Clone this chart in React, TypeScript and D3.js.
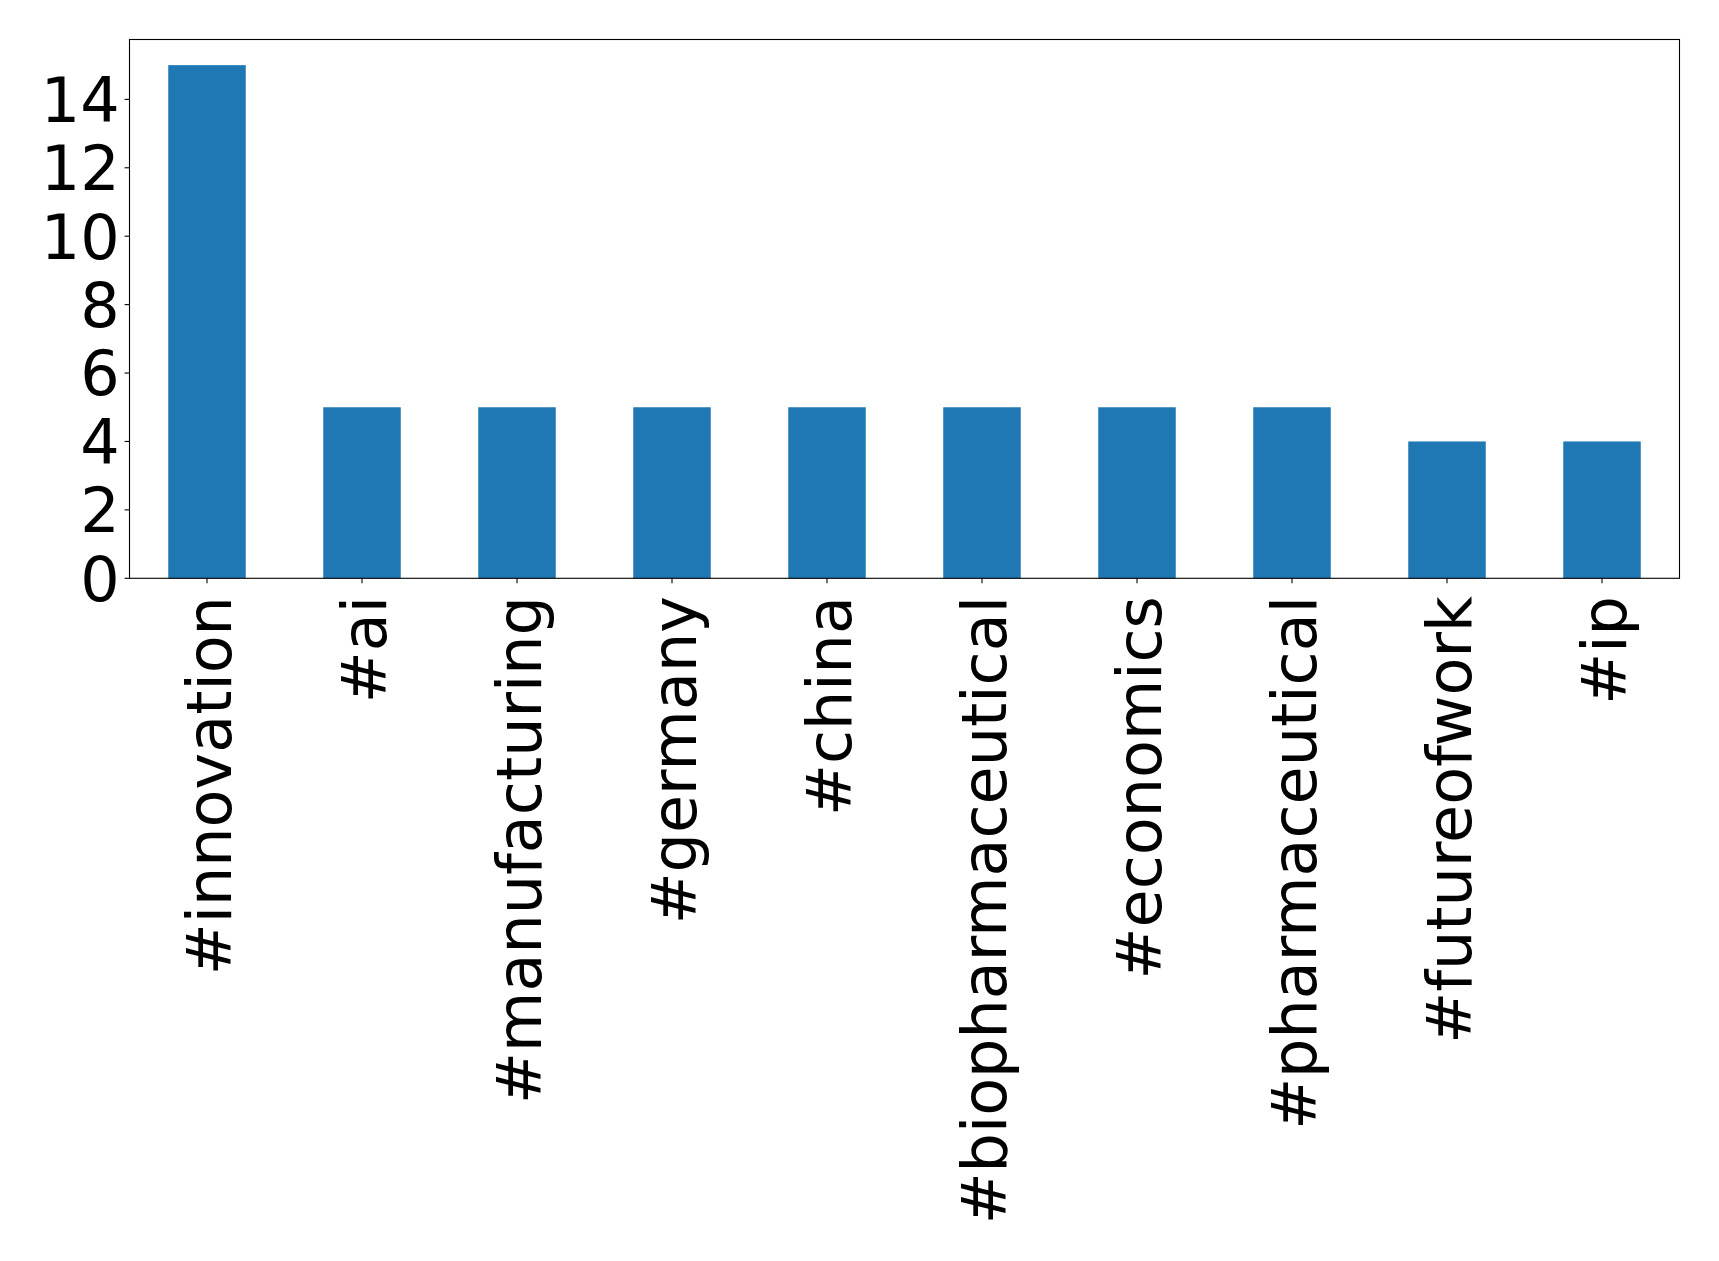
import React from "react";
import * as d3 from "d3";

const categories = ["#innovation", "#ai", "#manufacturing", "#germany", "#china", "#biopharmaceutical", "#economics", "#pharmaceutical", "#futureofwork", "#ip"];
const counts = [15, 5, 5, 5, 5, 5, 5, 5, 4, 4];
const yTicks = [0, 2, 4, 6, 8, 10, 12, 14];

const W = 1719;
const H = 1261;
const left = 129.5;
const right = 1679.5;
const top = 39.5;
const bottom = 578.3;
const font = "'DejaVu Sans', sans-serif";
const fs = 62;
const tickLen = 4.9;
const pad = 4.9;

export default function App() {
  const x = d3.scaleLinear().domain([-0.5, categories.length - 0.5]).range([left, right]);
  const yMax = d3.max(counts)! * 1.05;
  const y = d3.scaleLinear().domain([0, yMax]).range([bottom, top]);
  const bw = x(0.25) - x(-0.25);
  return (
    <div style={{ position: "absolute", left: 0, top: 0 }}>
      <svg width={W} height={H} style={{ display: "block", background: "#fff" }}>
        {counts.map((v, i) => (
          <rect key={i} x={x(i) - bw / 2} y={y(v)} width={bw} height={y(0) - y(v)} fill="#1f77b4" />
        ))}
        <rect x={left} y={top} width={right - left} height={bottom - top} fill="none" stroke="#000" strokeWidth={1.1} />
        {yTicks.map((t) => (
          <g key={t}>
            <line x1={left - tickLen} x2={left} y1={y(t)} y2={y(t)} stroke="#000" strokeWidth={1.1} />
            <text x={left - tickLen - pad} y={y(t)} dy="0.36em" textAnchor="end" fontFamily={font} fontSize={fs} fill="#000">{t}</text>
          </g>
        ))}
        {categories.map((c, i) => (
          <g key={c}>
            <line x1={x(i)} x2={x(i)} y1={bottom} y2={bottom + tickLen} stroke="#000" strokeWidth={1.1} />
            <text
              transform={`translate(${x(i)},${bottom + tickLen + pad + 8}) rotate(-90)`}
              textAnchor="end"
              dy="0.38em"
              fontFamily={font}
              fontSize={fs}
              fill="#000"
            >{c}</text>
          </g>
        ))}
      </svg>
    </div>
  );
}
